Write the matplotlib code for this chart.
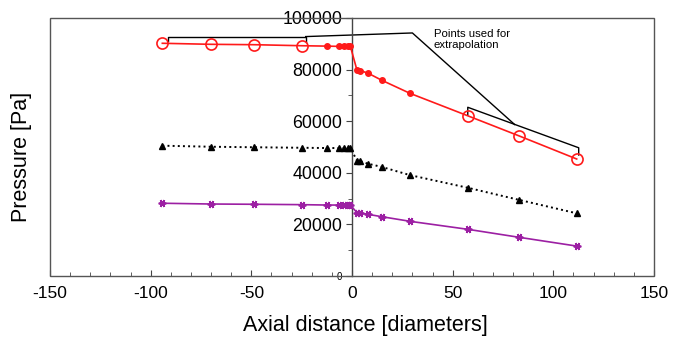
import matplotlib
matplotlib.use("Agg")
import matplotlib.pyplot as plt
from matplotlib.patches import Rectangle
from matplotlib.ticker import MultipleLocator

plt.rcParams['font.family'] = ['Liberation Sans', 'DejaVu Sans']
plt.rcParams['axes.unicode_minus'] = False

# Data
x_pos = [-94.2, -70.0, -48.5, -24.7, -12.4, -6.4, -3.8, -1.8, -0.8,
         2.5, 4.2, 8.0, 14.7, 28.8, 57.5, 83.0, 111.6]
red_y = [90200, 89800, 89650, 89250, 89100, 89000, 89000, 89000, 89000,
         79700, 79600, 78600, 75900, 70800, 62100, 54300, 45350]
red_open = [0, 1, 2, 3, 14, 15, 16]
black_y = [50500, 50100, 49900, 49700, 49600, 49600, 49600, 49600, 49600,
           44700, 44500, 43500, 42300, 39100, 34200, 29500, 24300]
purple_y = [28200, 27900, 27800, 27650, 27500, 27500, 27500, 27500, 27500,
            24500, 24400, 23900, 23000, 21200, 18100, 15000, 11600]

# Annotation outline ("Points used for extrapolation")
bracket_left_x = [-91.4, -91.4, -23.0, -23.0]
bracket_left_y = [90900, 92600, 92600, 90800]
connector_x = [-23.0, 30.0, 80.8]
connector_y = [92800, 94200, 58700]
bracket_right_x = [57.5, 57.5, 112.6, 112.6]
bracket_right_y = [62400, 65400, 49700, 46900]

fig = plt.figure(figsize=(6.77, 3.38), dpi=100)
ax = fig.add_axes([50/677, (338-276)/338, (654-50)/677, (276-18)/338])

red = '#ff1a1a'
purple = '#9c1fa3'

# Red series
ax.plot(x_pos, red_y, '-', color=red, lw=1.2, zorder=3)
filled_idx = [i for i in range(len(x_pos)) if i not in red_open]
ax.plot([x_pos[i] for i in filled_idx], [red_y[i] for i in filled_idx], 'o',
        color=red, ms=4, zorder=4)
ax.plot([x_pos[i] for i in red_open], [red_y[i] for i in red_open], 'o',
        mfc='none', mec=red, mew=1.2, ms=8, zorder=4)

# Black dotted triangles
ax.plot(x_pos, black_y, ':', color='black', lw=1.4, marker='^', ms=5,
        zorder=3)

# Purple asterisks
ax.plot(x_pos, purple_y, '-', color=purple, lw=1.2, marker=(6, 2, 90),
        ms=5.5, mew=1.3, zorder=3)

# Annotation
ax.plot(bracket_left_x, bracket_left_y, '-', color='black', lw=1.0, zorder=2)
ax.plot(connector_x, connector_y, '-', color='black', lw=1.0, zorder=2)
ax.plot(bracket_right_x, bracket_right_y, '-', color='black', lw=1.0, zorder=2)
ax.text(40.5, 95800, "Points used for\nextrapolation", fontsize=8.2,
        ha='left', va='top', linespacing=1.2)

ax.set_xlim(-150, 150)
ax.set_ylim(0, 100000)

# Frame and axes
for s in ['right', 'top', 'bottom']:
    ax.spines[s].set_visible(False)
ax.spines['left'].set_position(('data', 0))
ax.spines['left'].set_color('#444444')
ax.spines['left'].set_linewidth(1.0)
ax.add_patch(Rectangle((0, 0), 1, 1, transform=ax.transAxes, fill=False,
                       edgecolor='#555555', lw=1.0, zorder=5, clip_on=False))

ax.set_xticks([-150, -100, -50, 0, 50, 100, 150])
ax.xaxis.set_minor_locator(MultipleLocator(10))
ax.set_yticks([0, 20000, 40000, 60000, 80000, 100000],
              ['0', '20000', '40000', '60000', '80000', '100000'])
ax.yaxis.set_minor_locator(MultipleLocator(10000))

ax.tick_params(axis='x', which='both', direction='in', color='#444444',
               labelsize=12.5, pad=7, top=False)
ax.tick_params(axis='x', which='major', length=4)
ax.tick_params(axis='x', which='minor', length=3)
ax.tick_params(axis='y', which='both', direction='out', color='#444444',
               labelsize=12.8, pad=3, right=False)
ax.tick_params(axis='y', which='major', length=4)
ax.tick_params(axis='y', which='minor', length=3)
ax.get_yticklabels()[0].set_fontsize(7)

ax.set_xlabel("Axial distance [diameters]", fontsize=15.5)
ax.xaxis.set_label_coords((365 - 50) / 604, (276 - 325) / 258)
ax.xaxis.label.set_va('center')
ax.set_ylabel("Pressure [Pa]", fontsize=15.5)
ax.yaxis.set_label_coords((22 - 50) / 604, (276 - 157) / 258)
ax.yaxis.label.set_va('center')

fig.savefig("out.png", dpi=100)
